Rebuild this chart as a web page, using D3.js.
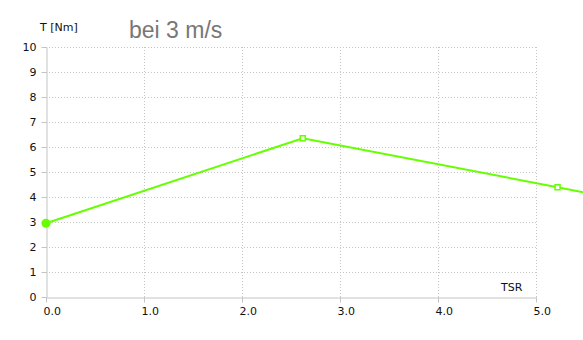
<html>
<script src="https://d3js.org/d3.v7.min.js"></script>
<style>
  body { margin: 0; background: white; }
  text { font-family: "DejaVu Sans", sans-serif; }
</style>
<body>
<div id="chart"></div>
<script>
  // TSR vs torque at 3 m/s
  var tsr = [0.0, 2.62, 5.22, 6.0];
  var torque = [2.95, 6.35, 4.39, 3.8];
  var xTicks = [0, 1, 2, 3, 4, 5];
  var yTicks = [0, 1, 2, 3, 4, 5, 6, 7, 8, 9, 10];

  var width = 583, height = 340;
  var margin = { top: 47, right: 47, bottom: 43, left: 46 };

  var svg = d3.select("#chart").append("svg")
    .attr("width", width)
    .attr("height", height);

  var x = d3.scaleLinear().domain([0, 5]).range([margin.left, width - margin.right]);
  var y = d3.scaleLinear().domain([0, 10]).range([height - margin.bottom, margin.top]);

  var grid = "#c4c4c4";

  // grid lines
  svg.selectAll(".hgrid").data(yTicks.filter(d => d > 0)).enter()
    .append("line")
    .attr("x1", x(0)).attr("x2", x(5))
    .attr("y1", d => y(d) + 0.5).attr("y2", d => y(d) + 0.5)
    .attr("stroke", grid).attr("stroke-dasharray", "1,2");

  svg.selectAll(".vgrid").data(xTicks.filter(d => d > 0)).enter()
    .append("line")
    .attr("x1", d => x(d) + 0.5).attr("x2", d => x(d) + 0.5)
    .attr("y1", y(10)).attr("y2", y(0))
    .attr("stroke", grid).attr("stroke-dasharray", "1,2");

  // axes
  var xAxis = svg.append("g")
    .attr("transform", "translate(0," + (y(0) + 0.5) + ")")
    .call(d3.axisBottom(x).tickValues(xTicks).tickFormat(d3.format(".1f")).tickSize(5).tickSizeOuter(0));
  xAxis.select(".domain").attr("stroke", grid);
  xAxis.selectAll("line").attr("stroke", grid);
  xAxis.selectAll("text")
    .attr("text-anchor", "start").attr("dx", "-3").attr("y", 10)
    .style("font-size", "11px").attr("fill", "#111");

  var yAxis = svg.append("g")
    .attr("transform", "translate(" + (x(0) + 0.5) + ",0)")
    .call(d3.axisLeft(y).tickValues(yTicks).tickSize(5).tickSizeOuter(0));
  yAxis.select(".domain").attr("stroke", grid);
  yAxis.selectAll("line").attr("stroke", grid);
  yAxis.selectAll("text")
    .attr("x", -10)
    .style("font-size", "11px").attr("fill", "#111");

  // labels
  svg.append("text").attr("x", 40).attr("y", 31)
    .style("font-size", "11px").attr("fill", "#111").text("T [Nm]");
  svg.append("text").attr("x", 501).attr("y", 291)
    .style("font-size", "11px").attr("fill", "#111").text("TSR");
  svg.append("text").attr("x", 129).attr("y", 38)
    .style("font-family", "'Liberation Sans', Arial, sans-serif")
    .style("font-size", "23px").attr("fill", "#777").text("bei 3 m/s");

  // curve
  var pts = tsr.map((t, i) => [t, torque[i]]);
  var green = "#66ff00";
  svg.append("path")
    .attr("d", d3.line().x(d => x(d[0])).y(d => y(d[1]))(pts))
    .attr("fill", "none").attr("stroke", green).attr("stroke-width", 2);

  svg.append("circle")
    .attr("cx", x(pts[0][0])).attr("cy", y(pts[0][1])).attr("r", 4.5)
    .attr("fill", green);

  svg.selectAll(".mk").data(pts.slice(1)).enter()
    .append("rect")
    .attr("x", d => x(d[0]) - 2.5).attr("y", d => y(d[1]) - 2.5)
    .attr("width", 5).attr("height", 5)
    .attr("fill", "white").attr("stroke", green).attr("stroke-width", 1.5);
</script>
</body>
</html>
